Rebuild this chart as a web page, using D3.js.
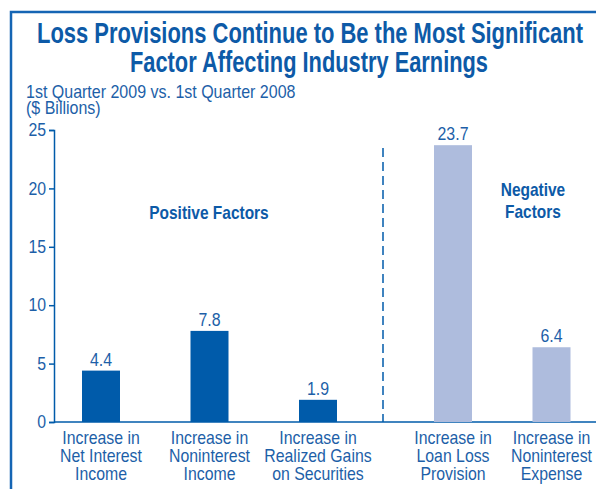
<!DOCTYPE html>
<meta charset="utf-8">
<script src="https://d3js.org/d3.v7.min.js"></script>
<style>
  body { margin: 0; background: #fff; }
  text { font-family: "Liberation Sans", Arial, sans-serif; }
</style>
<div id="chart"></div>
<script>
// data
var positiveCats = [
  ["Increase in", "Net Interest", "Income"],
  ["Increase in", "Noninterest", "Income"],
  ["Increase in", "Realized Gains", "on Securities"]
];
var positiveVals = [4.4, 7.8, 1.9];
var negativeCats = [
  ["Increase in", "Loan Loss", "Provision"],
  ["Increase in", "Noninterest", "Expense"]
];
var negativeVals = [23.7, 6.4];
var yTicks = [0, 5, 10, 15, 20, 25];

var blue = "#005baa", light = "#aebcdd", textBlue = "#1d5fa8", titleBlue = "#0d5aa7";
var W = 596, H = 489;
var squeeze = 0.86;

// condensed look: squeeze text horizontally around its x
function narrow(sel, k) {
  k = k || squeeze;
  sel.each(function() {
    var t = d3.select(this);
    var x = +t.attr("x") || 0;
    t.attr("transform", "translate(" + x + ",0) scale(" + k + ",1) translate(" + (-x) + ",0)");
  });
}

var svg = d3.select("#chart").append("svg")
  .attr("width", W).attr("height", H);

// frame (clipped at right and bottom)
svg.append("path")
  .attr("d", "M11," + H + "V12H" + W)
  .attr("fill", "none")
  .attr("stroke", "#1565b4")
  .attr("stroke-width", 2.5);

// titles
svg.append("text")
  .attr("x", 37).attr("y", 43)
  .attr("fill", titleBlue)
  .attr("textLength", 546).attr("lengthAdjust", "spacingAndGlyphs")
  .style("font-size", "29px").style("font-weight", "bold")
  .text("Loss Provisions Continue to Be the Most Significant");
svg.append("text")
  .attr("x", 130).attr("y", 72)
  .attr("fill", titleBlue)
  .attr("textLength", 358).attr("lengthAdjust", "spacingAndGlyphs")
  .style("font-size", "29px").style("font-weight", "bold")
  .text("Factor Affecting Industry Earnings");

svg.append("text").attr("x", 26).attr("y", 98)
  .attr("fill", textBlue).style("font-size", "18px")
  .text("1st Quarter 2009 vs. 1st Quarter 2008")
  .call(narrow, 0.89);
svg.append("text").attr("x", 26).attr("y", 114)
  .attr("fill", textBlue).style("font-size", "18px")
  .text("($ Billions)")
  .call(narrow, 0.89);

// scales
var y = d3.scaleLinear().domain([0, 25]).range([422, 130]);
var xPos = d3.scalePoint().domain(d3.range(positiveVals.length)).range([101, 318]);
var xNeg = d3.scalePoint().domain(d3.range(negativeVals.length)).range([453, 551.5]);
var barW = 38;
var axisX = 54, divideX = 383;

// y axis
var yAxis = svg.append("g")
  .attr("transform", "translate(" + axisX + ",0)")
  .call(d3.axisLeft(y).tickValues(yTicks).tickSize(5).tickPadding(3));
yAxis.select(".domain").attr("stroke", blue).attr("stroke-width", 1.5);
yAxis.selectAll(".tick line").attr("stroke", blue).attr("stroke-width", 1.5);
yAxis.selectAll(".tick text")
  .attr("fill", textBlue)
  .style("font-size", "18px")
  .style("font-family", "'Liberation Sans', sans-serif")
  .call(narrow, 0.88);

// x axis line
svg.append("line")
  .attr("x1", axisX).attr("x2", W)
  .attr("y1", y(0)).attr("y2", y(0))
  .attr("stroke", blue).attr("stroke-width", 1.5);

// divider
svg.append("line")
  .attr("x1", divideX).attr("x2", divideX)
  .attr("y1", 148).attr("y2", y(0))
  .attr("stroke", blue).attr("stroke-width", 1.5)
  .attr("stroke-dasharray", "9,5");

function drawGroup(vals, cats, xs, color) {
  var g = svg.append("g");
  g.selectAll("rect").data(vals).enter().append("rect")
    .attr("x", function(d, i) { return xs(i) - barW / 2; })
    .attr("y", function(d) { return y(d); })
    .attr("width", barW)
    .attr("height", function(d) { return y(0) - y(d); })
    .attr("fill", color);
  g.selectAll(".val").data(vals).enter().append("text")
    .attr("class", "val")
    .attr("x", function(d, i) { return xs(i); })
    .attr("y", function(d) { return y(d) - 5; })
    .attr("text-anchor", "middle")
    .attr("fill", textBlue)
    .style("font-size", "18.5px")
    .text(function(d) { return d.toFixed(1); })
    .call(narrow);
  var labels = g.selectAll(".cat").data(cats).enter().append("text")
    .attr("class", "cat")
    .attr("x", function(d, i) { return xs(i); })
    .attr("text-anchor", "middle")
    .attr("fill", textBlue)
    .style("font-size", "18px");
  labels.each(function(lines, i) {
    d3.select(this).selectAll("tspan").data(lines).enter().append("tspan")
      .attr("x", xs(i))
      .attr("y", function(d, j) { return 444 + j * 18; })
      .text(function(d) { return d; });
  });
  labels.call(narrow, 0.88);
}
drawGroup(positiveVals, positiveCats, xPos, blue);
drawGroup(negativeVals, negativeCats, xNeg, light);

// group labels
svg.append("text").attr("x", 209).attr("y", 219)
  .attr("text-anchor", "middle").attr("fill", titleBlue)
  .style("font-size", "18px").style("font-weight", "bold")
  .text("Positive Factors")
  .call(narrow);
var neg = svg.append("text").attr("x", 533).attr("text-anchor", "middle").attr("fill", titleBlue)
  .style("font-size", "18px").style("font-weight", "bold");
neg.append("tspan").attr("x", 533).attr("y", 196).text("Negative");
neg.append("tspan").attr("x", 533).attr("y", 218).text("Factors");
neg.call(narrow);
</script>
